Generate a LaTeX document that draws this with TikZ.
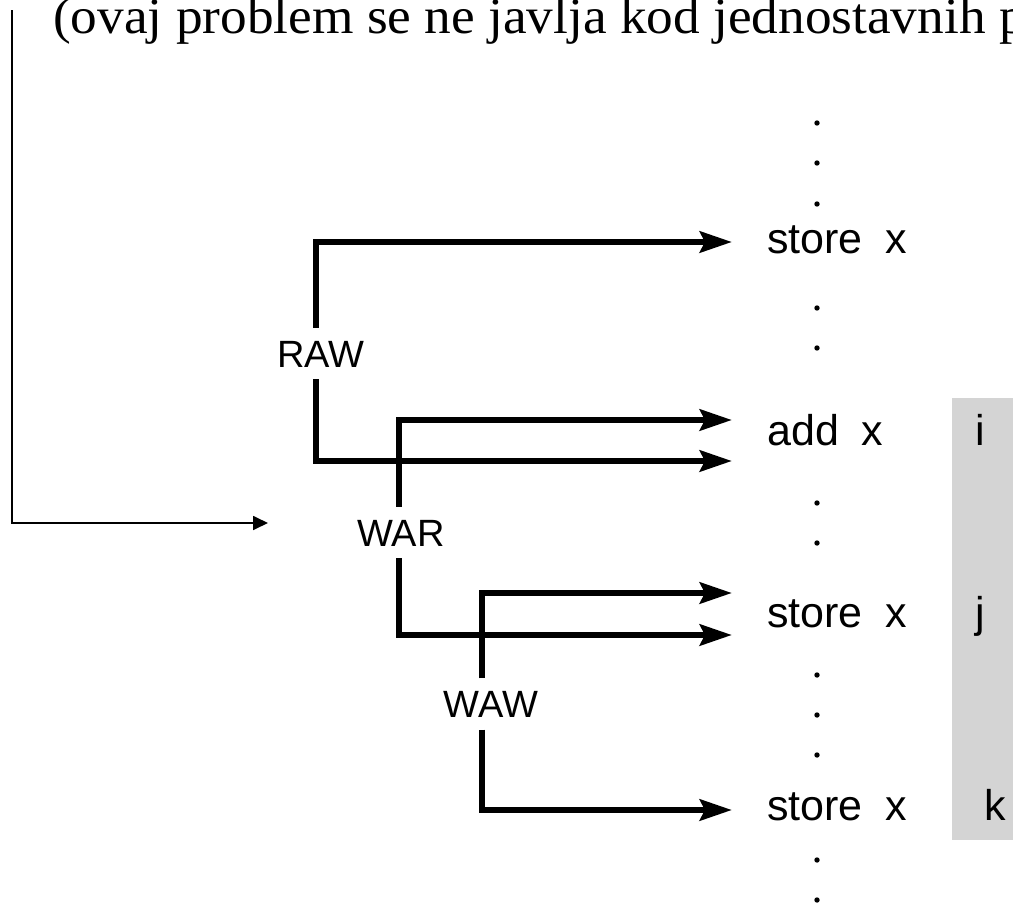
\documentclass[tikz,border=0pt]{standalone}
\usepackage{fontspec}
\setmainfont{Liberation Serif}
\setsansfont{Liberation Sans}
\usetikzlibrary{arrows.meta}
\begin{document}
\begin{tikzpicture}[x=1pt,y=-1pt,
  dep/.style={line width=6.5pt,-{Stealth[length=32pt,width=21pt,inset=5pt]}},
  thinarrow/.style={line width=1.8pt,-{Triangle[length=15pt,width=14pt]}},
  instr/.style={font=\sffamily\fontsize{43}{50}\selectfont,anchor=base west,inner sep=0pt},
  lbl/.style={font=\sffamily\fontsize{38}{44}\selectfont,inner sep=0pt,text height=27pt,text depth=0pt,inner ysep=12pt},
  band/.style={fill=black!17}]
\useasboundingbox (0,0) rectangle (1013,910);
\clip (0,0) rectangle (1013,910);
\fill[band] (952,398) rectangle (1013,840);
\node[font=\rmfamily\fontsize{51}{58}\selectfont,anchor=base west,inner sep=0pt] (title) at (53,33)
  {\scalebox{1.045}[1]{(ovaj problem se ne javlja kod jednostavnih p}};
% instructions
\node[instr] (s1) at (767,253) {store\hspace{0.52em}x};
\node[instr] (a1) at (767,445) {add\hspace{0.52em}x};
\node[instr] (s2) at (767,627) {store\hspace{0.52em}x};
\node[instr] (s3) at (767,820) {store\hspace{0.52em}x};
\node[instr] (ii) at (975,445) {i};
\node[instr] (jj) at (975,627) {j};
\node[instr] (kk) at (984,820) {k};
% dots
\foreach \yy in {123,163,204,308,348,503,543,675,715,755,860,900}
  \fill (817,\yy) circle (2.7pt);
% labels
\node[lbl] (raw) at (321,353.5) {RAW};
\node[lbl] (war) at (401,532.5) {WAR};
\node[lbl] (waw) at (491,704) {WAW};
% coordinates
\coordinate (c1) at (316,242); \coordinate (t1) at (732,242);
\coordinate (c2) at (316,461); \coordinate (t2) at (732,461);
\coordinate (c3) at (399,420); \coordinate (t3) at (732,420);
\coordinate (c4) at (399,635); \coordinate (t4) at (732,635);
\coordinate (c5) at (482,593); \coordinate (t5) at (732,593);
\coordinate (c6) at (482,810); \coordinate (t6) at (732,810);
\draw[dep] (raw.north -| c1) -- (c1) -- (t1);
\draw[dep] (raw.south -| c2) -- (c2) -- (t2);
\draw[dep] (war.north -| c3) -- (c3) -- (t3);
\draw[dep] (war.south -| c4) -- (c4) -- (t4);
\draw[dep] (waw.north -| c5) -- (c5) -- (t5);
\draw[dep] (waw.south -| c6) -- (c6) -- (t6);
% thin arrow
\coordinate (l0) at (12,10); \coordinate (l1) at (12,523); \coordinate (l2) at (268,523);
\draw[thinarrow] (l0) -- (l1) -- (l2);
\end{tikzpicture}
\end{document}
